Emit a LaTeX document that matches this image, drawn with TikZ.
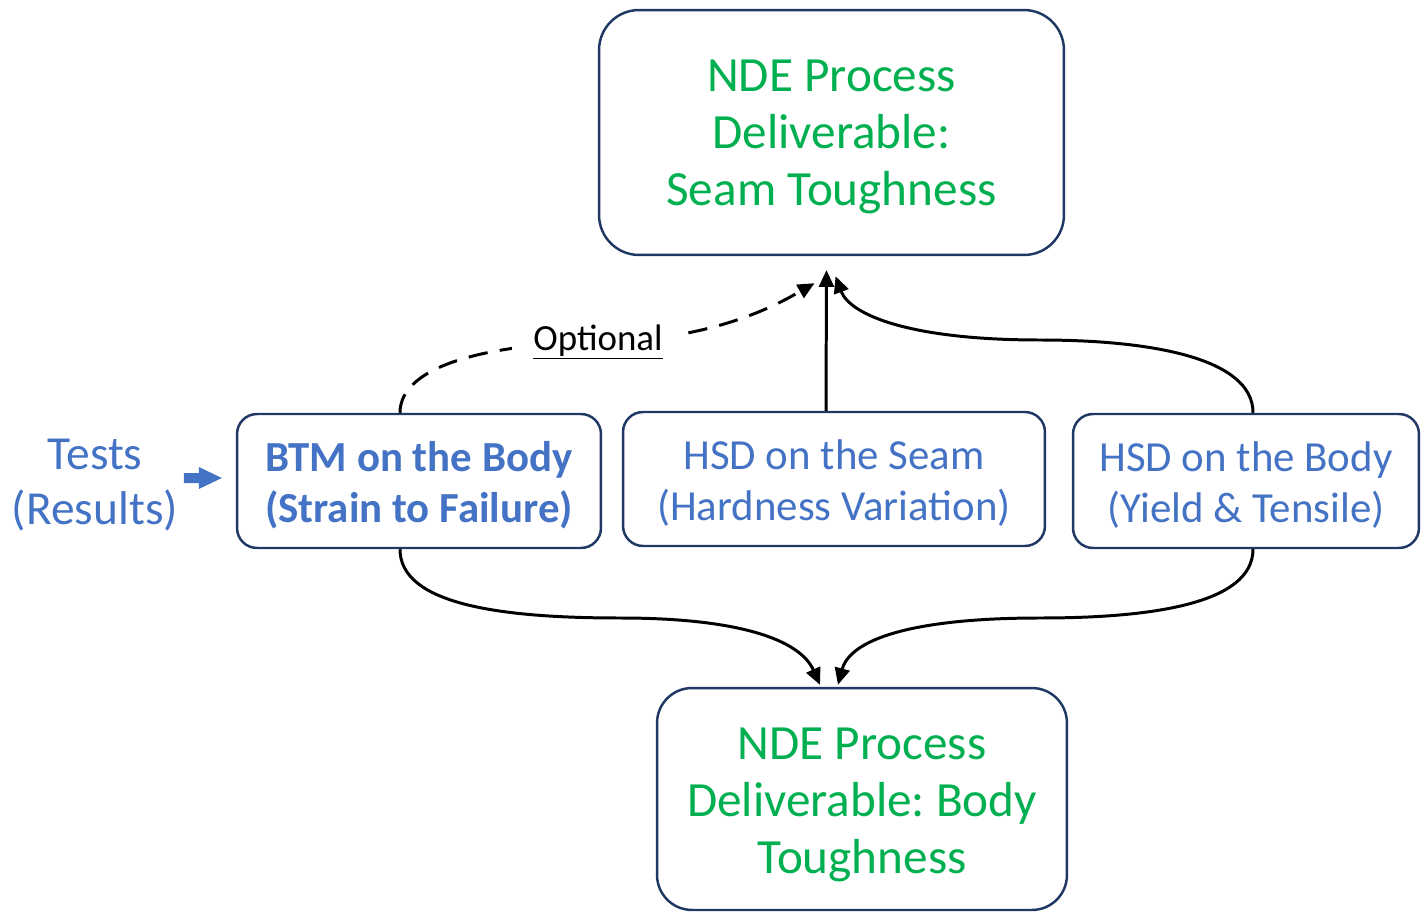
\documentclass[tikz,border=0pt]{standalone}
\usepackage{fontspec}
\setmainfont{Carlito}
\usetikzlibrary{arrows.meta,calc}
\definecolor{tgreen}{HTML}{00B050}
\definecolor{tblue}{HTML}{4472C4}
\definecolor{tnavy}{HTML}{1F3864}
\frenchspacing
\newcommand{\lift}[1]{\rule{0pt}{#1}}
\begin{document}
\begin{tikzpicture}[x=0.02cm,y=-0.02cm,
  box/.style={draw=tnavy, line width=1.4pt, align=center, inner sep=0pt, fill=white},
  bigbox/.style={box, rounded corners=0.8cm, text=tgreen, font=\fontsize{28}{32.4}\selectfont},
  midbox/.style={box, rounded corners=0.4cm, text=tblue, minimum height=2.68cm, font=\fontsize{24.4}{29}\selectfont},
  conn/.style={line width=1.7pt, -{Triangle[length=9.5pt,width=8.5pt]}},
]
\useasboundingbox (0,0) rectangle (1421,922);

\node[bigbox, minimum width=9.3cm, minimum height=4.9cm] (top) at (831.5,132.5)
  {\lift{23pt}NDE Process\\Deliverable:\\Seam Toughness};
\node[bigbox, minimum width=8.2cm, minimum height=4.44cm, rounded corners=0.7cm] (bot) at (862,799)
  {\lift{25pt}NDE Process\\Deliverable: Body\\Toughness};
\node[midbox, minimum width=7.28cm, font=\fontsize{24.4}{29}\selectfont\bfseries] (btm) at (419,481)
  {\lift{21.5pt}BTM on the Body\\(Strain to Failure)};
\node[midbox, minimum width=8.44cm] (seam) at (834,479)
  {\lift{21.5pt}HSD on the Seam\\(Hardness Variation)};
\node[midbox, minimum width=6.92cm] (body) at (1246,481)
  {\lift{21.5pt}HSD on the Body\\(Yield \& Tensile)};
\node[text=tblue, align=center, font=\fontsize{27}{31}\selectfont] (tests) at (95,485)
  {Tests\\(Results)};

% blue block arrow
\coordinate (tip) at ($(btm.west)+(-14,-3)$);
\fill[tblue] (tip) -- ++(-23,-11) -- ++(0,6) -- ++(-15,0) -- ++(0,10) -- ++(15,0) -- ++(0,6) -- cycle;

% coordinates for connector ends
\coordinate (t1) at ($(top.south)+(-17,27)$);
\coordinate (t2) at ($(top.south)+(-5,14)$);
\coordinate (t3) at ($(top.south)+(4,20)$);
\coordinate (b1) at ($(bot.north)+(-42,-2)$);
\coordinate (b2) at ($(bot.north)+(-24,-2)$);
\coordinate (btmTop) at ($(btm.north)+(-19,0)$);
\coordinate (btmBot) at ($(btm.south)+(-19,0)$);
\coordinate (seamTop) at ($(seam.north)+(-8,0)$);
\coordinate (bodyTop) at ($(body.north)+(7,0)$);
\coordinate (bodyBot) at ($(body.south)+(7,0)$);

% upper connectors
\draw[conn, dashed, dash pattern=on 11pt off 7pt] (btmTop) .. controls ++(0,-45) and (480,344) .. (600,342)
  .. controls (720,340) and (785,300) .. (t1);
\node[fill=white, inner xsep=12pt, inner ysep=1pt, font=\fontsize{21}{25}\selectfont] (opt) at (598,342) {\underline{Optional}};
\draw[conn] (seamTop) -- (t2);
\draw[conn] (bodyTop) .. controls ++(0,-55) and (1150,340) .. (1040,340)
  .. controls (910,340) and (850,315) .. (t3);

% lower connectors
\draw[conn] (btmBot) .. controls ++(0,55) and (500,618) .. (620,618)
  .. controls (740,618) and (800,640) .. (b1);
\draw[conn] (bodyBot) .. controls ++(0,55) and (1150,618) .. (1040,618)
  .. controls (910,618) and (850,640) .. (b2);
\end{tikzpicture}
\end{document}
